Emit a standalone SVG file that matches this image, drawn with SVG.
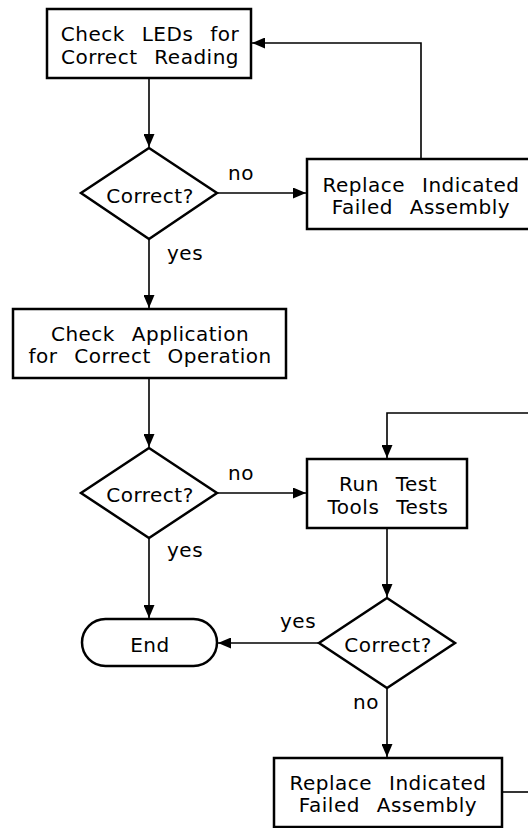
<svg xmlns="http://www.w3.org/2000/svg" width="528" height="828" viewBox="0 0 528 828">
<style>
.box{fill:#fff;stroke:#000;stroke-width:2.5}
.ln{fill:none;stroke:#000;stroke-width:1.6}
.t{font-family:"DejaVu Sans",sans-serif;font-size:20px;letter-spacing:0.5px;word-spacing:10px;fill:#000;text-anchor:middle}
.lb{font-family:"DejaVu Sans",sans-serif;font-size:20px;letter-spacing:0.5px;fill:#000}
</style>
<defs>
<marker id="ah" markerUnits="userSpaceOnUse" markerWidth="14" markerHeight="11" refX="13" refY="5.5" orient="auto">
<path d="M0,0 L13,5.5 L0,11 Z" fill="#000"/>
</marker>
</defs>
<rect width="528" height="828" fill="#fff"/>
<g id="connectors">
<path class="ln" d="M149,78 V147" marker-end="url(#ah)"/>
<path class="ln" d="M217,193 H306" marker-end="url(#ah)"/>
<path class="ln" d="M421,159 V43 H252" marker-end="url(#ah)"/>
<path class="ln" d="M149,239 V308" marker-end="url(#ah)"/>
<path class="ln" d="M149,378 V447" marker-end="url(#ah)"/>
<path class="ln" d="M217,493 H306" marker-end="url(#ah)"/>
<path class="ln" d="M530,413 H387 V458" marker-end="url(#ah)"/>
<path class="ln" d="M149,538 V618" marker-end="url(#ah)"/>
<path class="ln" d="M387,528 V597" marker-end="url(#ah)"/>
<path class="ln" d="M319,643 H218" marker-end="url(#ah)"/>
<path class="ln" d="M387,688 V757" marker-end="url(#ah)"/>
<path class="ln" d="M502,792 H530"/>
<text class="lb" x="228" y="180">no</text>
<text class="lb" x="167" y="260">yes</text>
<text class="lb" x="228" y="480">no</text>
<text class="lb" x="167" y="557">yes</text>
<text class="lb" x="280" y="628">yes</text>
<text class="lb" x="353" y="709">no</text>
</g>
<g id="check-leds">
<rect class="box" x="47" y="9" width="204" height="69"/>
<text class="t" x="150" y="41">Check LEDs for</text>
<text class="t" x="150" y="64">Correct Reading</text>
</g>
<g id="decision1">
<polygon class="box" points="149,148 217,193 149,239 81,193"/>
<text class="t" x="150" y="203">Correct?</text>
</g>
<g id="replace1">
<rect class="box" x="307" y="159" width="228" height="70"/>
<text class="t" x="421" y="192">Replace Indicated</text>
<text class="t" x="421" y="214">Failed Assembly</text>
</g>
<g id="check-app">
<rect class="box" x="13" y="309" width="273" height="69"/>
<text class="t" x="150" y="341">Check Application</text>
<text class="t" x="150" y="363">for Correct Operation</text>
</g>
<g id="decision2">
<polygon class="box" points="149,448 217,493 149,538 81,493"/>
<text class="t" x="150" y="502">Correct?</text>
</g>
<g id="run-tests">
<rect class="box" x="307" y="459" width="160" height="69"/>
<text class="t" x="388" y="491">Run Test</text>
<text class="t" x="388" y="514">Tools Tests</text>
</g>
<g id="end">
<rect class="box" x="82" y="619" width="135" height="47" rx="23.5" ry="23.5"/>
<text class="t" x="150" y="652">End</text>
</g>
<g id="decision3">
<polygon class="box" points="387,598 455,643 387,688 319,643"/>
<text class="t" x="388" y="652">Correct?</text>
</g>
<g id="replace2">
<rect class="box" x="274" y="758" width="228" height="69"/>
<text class="t" x="388" y="790">Replace Indicated</text>
<text class="t" x="388" y="812">Failed Assembly</text>
</g>
</svg>
